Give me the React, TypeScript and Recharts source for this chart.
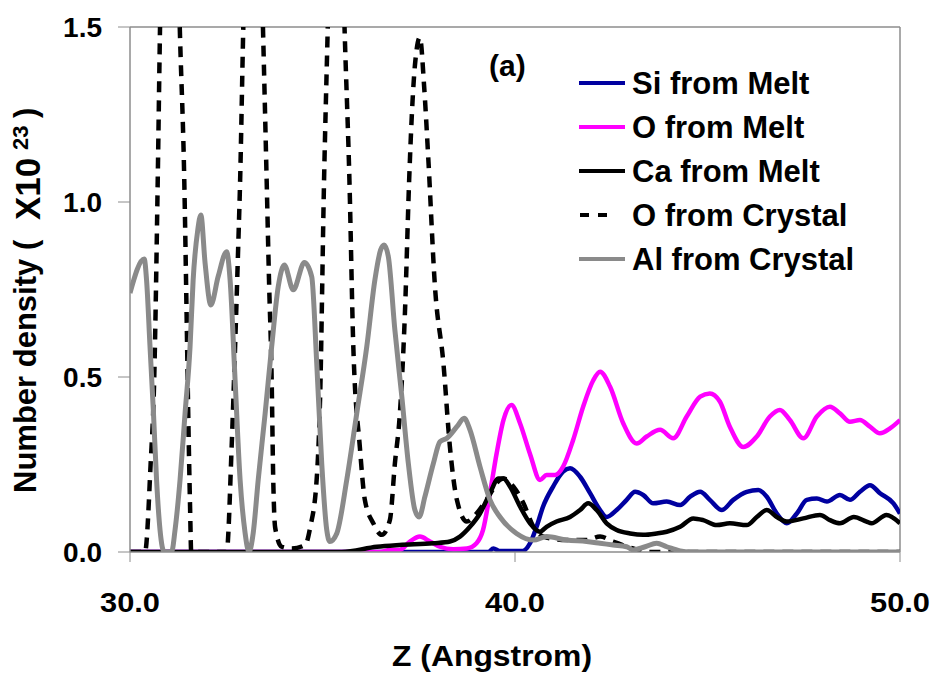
import React from 'react';
import { LineChart, Line, XAxis, YAxis, ReferenceLine } from 'recharts';

// ---- Data (Z in Angstrom, number density x10^23) ----
const zSi = [30, 39.3, 39.44, 39.6, 40.2, 40.39, 40.56, 40.73, 40.99, 41.25, 41.43, 41.69, 41.95, 42.21, 42.38, 42.64, 42.9, 43.12, 43.33, 43.59, 43.94, 44.29, 44.55, 44.81, 45.06, 45.37, 45.67, 46.02, 46.32, 46.54, 46.8, 47.06, 47.32, 47.58, 47.84, 48.1, 48.44, 48.7, 48.96, 49.22, 49.48, 49.83, 50];
const vSi = [0, 0, 0.01, 0.003, 0.003, 0.025, 0.072, 0.13, 0.187, 0.23, 0.239, 0.215, 0.168, 0.12, 0.1, 0.12, 0.149, 0.172, 0.163, 0.139, 0.144, 0.134, 0.158, 0.172, 0.149, 0.12, 0.149, 0.172, 0.177, 0.158, 0.11, 0.082, 0.11, 0.149, 0.153, 0.144, 0.163, 0.149, 0.172, 0.191, 0.168, 0.139, 0.11];

const zOMelt = [30, 36.5, 36.75, 37.01, 37.27, 37.53, 37.79, 38.05, 38.4, 38.75, 39.0, 39.17, 39.35, 39.52, 39.7, 39.91, 40.13, 40.39, 40.65, 40.82, 41.04, 41.25, 41.51, 41.77, 42.03, 42.21, 42.47, 42.81, 43.16, 43.42, 43.77, 44.11, 44.46, 44.81, 45.06, 45.32, 45.58, 45.93, 46.28, 46.62, 46.88, 47.14, 47.49, 47.84, 48.18, 48.44, 48.7, 48.96, 49.22, 49.48, 49.74, 50];
const vOMelt = [0, 0, 0.006, 0.006, 0.03, 0.044, 0.03, 0.015, 0.008, 0.01, 0.025, 0.063, 0.168, 0.28, 0.377, 0.42, 0.368, 0.28, 0.206, 0.22, 0.22, 0.244, 0.32, 0.415, 0.49, 0.515, 0.472, 0.368, 0.31, 0.33, 0.349, 0.325, 0.387, 0.444, 0.453, 0.43, 0.358, 0.3, 0.33, 0.387, 0.406, 0.377, 0.325, 0.387, 0.415, 0.396, 0.372, 0.377, 0.358, 0.339, 0.353, 0.377];

const zCa = [30, 35.5, 36.41, 37.0, 37.88, 38.31, 38.57, 38.83, 39.09, 39.35, 39.57, 39.7, 39.87, 40.13, 40.39, 40.65, 40.82, 41.08, 41.43, 41.69, 41.9, 42.12, 42.38, 42.64, 42.99, 43.33, 43.68, 43.94, 44.29, 44.63, 44.89, 45.24, 45.58, 46.02, 46.28, 46.54, 46.8, 47.06, 47.49, 47.92, 48.18, 48.44, 48.8, 49.13, 49.26, 49.65, 50];
const vCa = [0, 0, 0.015, 0.02, 0.025, 0.03, 0.044, 0.072, 0.11, 0.168, 0.21, 0.21, 0.187, 0.13, 0.082, 0.058, 0.072, 0.087, 0.1, 0.12, 0.139, 0.12, 0.082, 0.063, 0.053, 0.049, 0.053, 0.058, 0.072, 0.096, 0.091, 0.077, 0.082, 0.077, 0.1, 0.12, 0.1, 0.087, 0.096, 0.106, 0.091, 0.082, 0.1, 0.087, 0.082, 0.106, 0.082];

const zOCrystal = [30, 30.39, 30.535, 30.63, 30.72, 30.78, 31.04, 31.3, 31.41, 31.47, 31.51, 31.56, 31.59, 32.51, 32.64, 32.73, 32.81, 32.86, 32.94, 33.2, 33.46, 33.55, 33.61, 33.68, 33.72, 33.77, 33.94, 34.2, 34.55, 34.68, 34.85, 34.94, 35.04, 35.13, 35.35, 35.58, 35.7, 35.8, 35.97, 36.1, 36.32, 36.54, 36.75, 36.88, 37.01, 37.14, 37.25, 37.3, 37.4, 37.53, 37.64, 37.75, 37.92, 38.14, 38.31, 38.49, 38.75, 39.0, 39.26, 39.61, 39.7, 39.96, 40.22, 40.48, 40.74, 41.34, 41.86, 42.21, 42.55, 43.07, 43.5, 50];
const vOCrystal = [0, 0, 0.25, 0.5, 1.06, 1.5, 2.6, 1.47, 1.06, 0.68, 0.41, 0.13, 0, 0, 0.3, 0.587, 0.87, 1.06, 1.487, 2.5, 1.47, 1.06, 0.78, 0.49, 0.21, 0.07, 0.015, 0.01, 0.02, 0.07, 0.21, 0.45, 1.06, 1.47, 2.4, 1.47, 1.06, 0.587, 0.3, 0.149, 0.082, 0.049, 0.091, 0.253, 0.396, 0.68, 1.06, 1.2, 1.39, 1.47, 1.33, 1.12, 0.76, 0.54, 0.3, 0.149, 0.087, 0.11, 0.149, 0.206, 0.21, 0.187, 0.139, 0.072, 0.044, 0.034, 0.034, 0.044, 0.03, 0.01, 0, 0];

const zAl = [30, 30.37, 30.43, 30.52, 30.61, 30.69, 30.78, 30.89, 31.08, 31.17, 31.3, 31.43, 31.56, 31.64, 31.76, 31.84, 31.95, 32.1, 32.29, 32.51, 32.6, 32.73, 32.86, 32.99, 33.09, 33.2, 33.33, 33.51, 33.68, 33.85, 34.01, 34.24, 34.53, 34.72, 34.85, 34.98, 35.11, 35.19, 35.37, 35.63, 35.89, 36.15, 36.36, 36.51, 36.6, 36.71, 36.88, 37.06, 37.23, 37.4, 37.51, 37.66, 37.88, 38.05, 38.23, 38.49, 38.68, 38.83, 39.09, 39.35, 39.61, 40.04, 40.48, 40.82, 41.34, 41.86, 42.21, 42.55, 42.9, 43.07, 43.38, 43.68, 43.94, 44.29, 44.55, 50];
const vAl = [0.74, 0.837, 0.777, 0.587, 0.396, 0.206, 0.063, 0, 0, 0.063, 0.206, 0.396, 0.587, 0.777, 0.92, 0.963, 0.826, 0.706, 0.787, 0.858, 0.777, 0.49, 0.206, 0.054, 0, 0.054, 0.206, 0.396, 0.587, 0.758, 0.82, 0.749, 0.827, 0.787, 0.54, 0.253, 0.063, 0.03, 0.053, 0.206, 0.396, 0.587, 0.777, 0.863, 0.877, 0.844, 0.634, 0.444, 0.253, 0.12, 0.1, 0.158, 0.253, 0.315, 0.325, 0.358, 0.382, 0.349, 0.244, 0.149, 0.1, 0.053, 0.034, 0.044, 0.034, 0.03, 0.025, 0.02, 0.015, 0.006, 0.015, 0.025, 0.015, 0.003, 0, 0];

const xTicks = [30, 40, 50];
const yTicks = [0, 0.5, 1.0, 1.5];

const legendNames = ['Si from Melt', 'O from Melt', 'Ca from Melt', 'O from Crystal', 'Al from Crystal'];
const colors = ['#0000a0', '#ff00ff', '#000000', '#000000', '#8a8a8a'];

const toPts = (zs: number[], vs: number[]) => zs.map((z, i) => ({ z, v: vs[i] }));

const FONT = '"Liberation Sans", Arial, Helvetica, sans-serif';
const AXIS_GRAY = '#8c8c8c';

const XTick = (props: any) => {
  const { x, payload } = props;
  return (
    <text x={x} y={612} textAnchor="middle" fontFamily={FONT} fontWeight="bold" fontSize={28} fill="#000" textLength={60} lengthAdjust="spacingAndGlyphs">
      {Number(payload.value).toFixed(1)}
    </text>
  );
};

const YTick = (props: any) => {
  const { x, y, payload } = props;
  return (
    <text x={x} y={y + 10} textAnchor="end" fontFamily={FONT} fontWeight="bold" fontSize={28} fill="#000">
      {Number(payload.value).toFixed(1)}
    </text>
  );
};

export default function App() {
  const series = [
    toPts(zSi, vSi),
    toPts(zOMelt, vOMelt),
    toPts(zCa, vCa),
    toPts(zOCrystal, vOCrystal),
    toPts(zAl, vAl),
  ];
  const rowY = [83, 127, 171, 215, 259];
  return (
    <div style={{ position: 'absolute', left: 0, top: 0, width: 932, height: 680, background: '#fff' }}>
      <LineChart width={932} height={680} margin={{ top: 27, right: 32, bottom: 0, left: 0 }}>
        <XAxis
          type="number"
          dataKey="z"
          domain={[30, 50]}
          ticks={xTicks}
          allowDataOverflow
          height={128}
          tickSize={10}
          tick={XTick}
          axisLine={{ stroke: AXIS_GRAY, strokeWidth: 1.5 }}
          tickLine={{ stroke: AXIS_GRAY }}
        />
        <YAxis
          type="number"
          domain={[0, 1.5]}
          ticks={yTicks}
          allowDataOverflow
          width={130}
          tickSize={12}
          tickMargin={16}
          tick={YTick}
          axisLine={{ stroke: AXIS_GRAY, strokeWidth: 1.5 }}
          tickLine={{ stroke: AXIS_GRAY }}
        />
        <ReferenceLine y={1.5} stroke={AXIS_GRAY} strokeWidth={1.5} />
        <ReferenceLine x={50} stroke={AXIS_GRAY} strokeWidth={1.5} />
        {series.map((d, i) => (
          <Line
            key={legendNames[i]}
            data={d}
            dataKey="v"
            name={legendNames[i]}
            type="monotone"
            stroke={colors[i]}
            strokeWidth={i === 4 ? 5 : 4.5}
            strokeDasharray={i === 3 ? '11 8' : undefined}
            dot={false}
            activeDot={false}
            isAnimationActive={false}
          />
        ))}
      </LineChart>
      <svg width={932} height={680} style={{ position: 'absolute', left: 0, top: 0, pointerEvents: 'none' }}>
        <text x={489} y={76} fontFamily={FONT} fontWeight="bold" fontSize={30} fill="#000">(a)</text>
        {legendNames.map((name, i) => (
          <g key={name}>
            {i === 3 ? (
              <line x1={580} x2={608} y1={rowY[i]} y2={rowY[i]} stroke={colors[i]} strokeWidth={4} strokeDasharray="9 9" />
            ) : (
              <line x1={579} x2={625} y1={rowY[i]} y2={rowY[i]} stroke={colors[i]} strokeWidth={4} />
            )}
            <text x={632} y={rowY[i] + 11} fontFamily={FONT} fontWeight="bold" fontSize={31} fill="#000">{name}</text>
          </g>
        ))}
        <text x={392} y={666} fontFamily={FONT} fontWeight="bold" fontSize={29} fill="#000" textLength={200} lengthAdjust="spacingAndGlyphs">Z (Angstrom)</text>
        <text transform="translate(36,493) rotate(-90)" fontFamily={FONT} fontWeight="bold" fontSize={31} fill="#000">Number density (</text>
        <text transform="translate(40,220) rotate(-90)" fontFamily={FONT} fontWeight="bold" fontSize={35} fill="#000">X10</text>
        <text transform="translate(28,150) rotate(-90)" fontFamily={FONT} fontWeight="bold" fontSize={22} fill="#000">23</text>
        <text transform="translate(36,118) rotate(-90)" fontFamily={FONT} fontWeight="bold" fontSize={31} fill="#000">)</text>
      </svg>
    </div>
  );
}
